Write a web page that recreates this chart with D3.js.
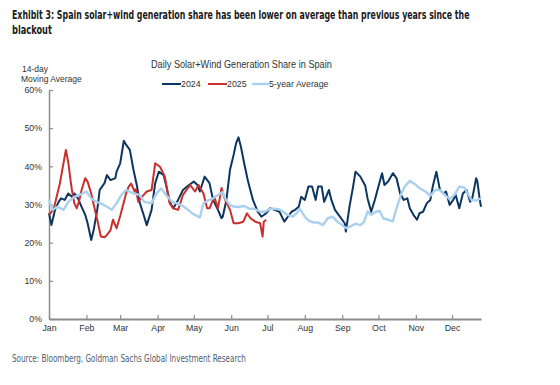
<!DOCTYPE html>
<html><head><meta charset="utf-8">
<script src="https://cdn.jsdelivr.net/npm/d3@7"></script>
<style>
body{margin:0;background:#fff;}
svg{display:block;}
</style>
</head><body>
<svg id="chart" width="560" height="385"></svg>
<script>
// ---- data (day of year, 14-day moving average share %) ----
const monthLabels = ["Jan","Feb","Mar","Apr","May","Jun","Jul","Aug","Sep","Oct","Nov","Dec"];
const monthStartDays = [0,31,59,90,120,151,181,212,243,273,304,334];
const yTickValues = [0,10,20,30,40,50,60];
const seriesNames = ["2024","2025","5-year Average"];

const data2024 = [[0,27.7],[2,24.6],[5,28.6],[8,30.7],[10,31.6],[13,31.2],[16,32.9],[19,32],[21,32.9],[24,31.6],[27,29.4],[30,27.3],[32,25.1],[35,20.7],[37,23.3],[40,28.6],[42,33.8],[46,35.6],[48,37.7],[51,36.4],[55,36.9],[56,38.6],[59,40.8],[62,46.7],[64,45.6],[67,44.3],[70,39.1],[73,34.7],[75,30.7],[78,27.7],[81,24.6],[85,28.6],[88,35.6],[91,38.6],[95,37.7],[97,35.1],[100,30.7],[103,29],[107,31.2],[111,33.8],[116,35.1],[120,36],[123,35.1],[125,33.4],[129,37.3],[133,35.6],[136,31.2],[140,28.6],[143,26.4],[144,26.8],[147,31.2],[150,39.1],[153,43],[155,46],[157,47.6],[159,45.2],[162,40.4],[165,36],[169,31.2],[173,28.1],[176,26.8],[180,27.7],[183,29],[187,28.6],[191,28.1],[195,25.5],[198,26.8],[201,28.1],[204,28.6],[207,29.4],[209,32],[212,31.2],[215,34.7],[218,34.7],[221,31.2],[223,34.7],[226,34.7],[228,30.7],[232,33.8],[234,31.2],[237,28.6],[240,27.3],[243,26],[245,25.1],[246,22.9],[249,29.4],[252,34.7],[254,38.6],[258,37.3],[262,35],[264,31.6],[267,28.1],[270,31.2],[273,34.7],[276,38.2],[278,35.1],[281,36],[285,38.2],[288,36.9],[291,32.9],[294,31.2],[297,31.6],[299,29],[302,27.3],[305,26],[307,27.7],[310,28.1],[313,30.3],[316,31.2],[318,34.7],[321,38.6],[324,33.8],[327,32.9],[329,33.4],[332,29.9],[335,31.2],[337,32.5],[340,29],[343,32.9],[346,33.8],[349,30.7],[351,32],[354,36.9],[355,36],[357,31.2],[358,29.4]];

const data2025 = [[0,27.2],[4,28.9],[6,31.6],[9,35.5],[12,40.8],[14,44.3],[16,41],[18,36],[19,33.8],[21,30.3],[23,29],[25,31],[27,33.8],[30,36.9],[32,36],[35,32.9],[37,30],[40,26],[43,21.6],[46,21.4],[48,22],[51,23.3],[53,26],[56,23.8],[59,27],[61,29.4],[64,33],[66,34.7],[68,35.5],[71,33.4],[72,34],[74,30.7],[77,32],[81,33.4],[85,33.8],[88,40.8],[92,39.9],[96,37.3],[100,30.3],[103,29],[107,28.6],[111,32.5],[117,35.1],[121,33.4],[124,35.1],[128,32.9],[131,29],[133,29],[137,32],[140,29],[143,34.3],[146,31.2],[150,28.6],[153,25.1],[157,25.1],[161,25.5],[164,27.7],[167,26.4],[171,25.5],[175,25.1],[177,21.6],[178,25.5],[180,26]];

const dataAvg = [[0,31.2],[3,28.6],[7,29.4],[12,28.6],[16,30.7],[21,32],[28,32.9],[31,33.4],[35,31.6],[39,30.7],[43,30.3],[48,29.4],[52,28.6],[56,30.3],[60,32.5],[64,33.8],[70,32.9],[75,32.5],[79,30.7],[85,30.3],[89,32.9],[93,34.2],[97,32.5],[102,30.7],[106,30.3],[110,29.8],[114,28.9],[119,27.6],[125,26.6],[128,30.3],[132,31.1],[136,31.6],[140,32.5],[144,33.3],[146,31.6],[150,29.8],[154,29.4],[158,29.4],[162,29.6],[166,28.9],[170,28.9],[175,28.1],[179,28.1],[183,28.9],[187,28.9],[191,28.7],[194,28.1],[198,27.2],[202,26.8],[205,27.7],[208,28.8],[212,26.8],[215,25.8],[219,25.3],[223,25.3],[227,24.6],[231,26.4],[235,26.8],[239,25.5],[243,24.6],[246,23.8],[250,24.3],[254,25],[258,24.6],[261,25.4],[264,28.1],[267,27.3],[271,28.1],[274,28.3],[277,26.4],[281,26],[285,25.6],[288,29],[292,32.9],[295,34.7],[299,36.2],[303,35.4],[307,34.3],[312,33.4],[316,32.3],[320,33.8],[324,33.8],[328,32.5],[332,31.4],[336,32.5],[340,34.7],[344,34.5],[346,33.4],[350,31.2],[354,31],[358,31.6]];

// ---- layout ----
const svg = d3.select("#chart");
const colors = {"2024":"#0c355f","2025":"#c8302e","5-year Average":"#a9d1ef"};
const widths = {"2024":2,"2025":2,"5-year Average":2.4};

const x = d3.scaleLinear().domain([0,358]).range([49,481]);
const y = d3.scaleLinear().domain([0,60]).range([319,90]);

// text fitted to a target width by horizontal scaling
function fittedText(str, px, py, targetW, attrs){
  const g = svg.append("g");
  const t = g.append("text").attr("x",0).attr("y",0).text(str);
  Object.entries(attrs).forEach(([k,v])=>t.attr(k,v));
  const w = t.node().getComputedTextLength();
  const s = Math.min(1, targetW / w);
  g.attr("transform",`translate(${px},${py}) scale(${s},1)`);
  return t;
}

const titleFont = "'Liberation Sans Narrow','Arial Narrow','DejaVu Sans Condensed',sans-serif";
const titleAttrs = {"font-family":titleFont,"font-weight":"bold","font-size":11.5,"fill":"#1a1a1a"};
fittedText("Exhibit 3: Spain solar+wind generation share has been lower on average than previous years since the",12,19,458,titleAttrs);
fittedText("blackout",12,34,40,titleAttrs);

const baseFont = "'Liberation Sans',Arial,sans-serif";
fittedText("Daily Solar+Wind Generation Share in Spain",151,68,181,{"font-family":baseFont,"font-size":10,"fill":"#333"});

svg.append("text").attr("x",22).attr("y",72)
  .attr("font-family",baseFont).attr("font-size",8.5).attr("fill","#333").text("14-day");
svg.append("text").attr("x",21).attr("y",81.5)
  .attr("font-family",baseFont).attr("font-size",8.5).attr("fill","#333").text("Moving Average");

// legend
const legendPos = [{lx:162,tx:181},{lx:208,tx:227},{lx:252,tx:269}];
seriesNames.forEach((n,i)=>{
  const p = legendPos[i];
  svg.append("line").attr("x1",p.lx).attr("x2",p.tx).attr("y1",84).attr("y2",84)
    .attr("stroke",colors[n]).attr("stroke-width",widths[n]);
  svg.append("text").attr("x",p.tx).attr("y",87.3)
    .attr("font-family",baseFont).attr("font-size",8.8).attr("fill","#333").text(n);
});

// axes
const axisColor = "#8c8c8c";
const yAxis = svg.append("g").attr("transform","translate(49,0)")
  .call(d3.axisLeft(y).tickValues(yTickValues).tickFormat(d=>d+"%").tickSize(-4).tickSizeOuter(0).tickPadding(7));
yAxis.select(".domain").attr("stroke",axisColor).attr("stroke-width",1.5);
yAxis.selectAll(".tick line").attr("stroke",axisColor).attr("stroke-width",1.2);
yAxis.selectAll(".tick text").attr("font-family",baseFont).attr("font-size",8.8).attr("fill","#333");

const xAxis = svg.append("g").attr("transform","translate(0,319)")
  .call(d3.axisBottom(x).tickValues(monthStartDays).tickFormat((d,i)=>monthLabels[i]).tickSize(-4).tickSizeOuter(0).tickPadding(6));
xAxis.select(".domain").attr("stroke",axisColor).attr("stroke-width",2);
xAxis.selectAll(".tick line").attr("stroke",axisColor).attr("stroke-width",1.2);
xAxis.selectAll(".tick text").attr("font-family",baseFont).attr("font-size",8.8).attr("fill","#333");

// lines
const line = d3.line().x(d=>x(d[0])).y(d=>y(d[1])).curve(d3.curveLinear);
const seriesData = {"2024":data2024,"2025":data2025,"5-year Average":dataAvg};
seriesNames.forEach(n=>{
  svg.append("path").datum(seriesData[n]).attr("d",line)
    .attr("fill","none").attr("stroke",colors[n]).attr("stroke-width",widths[n])
    .attr("stroke-linejoin","round");
});

// source
fittedText("Source: Bloomberg, Goldman Sachs Global Investment Research",12,362,234,
  {"font-family":titleFont,"font-size":10.5,"fill":"#4f5e6e"});
</script>
</body></html>
